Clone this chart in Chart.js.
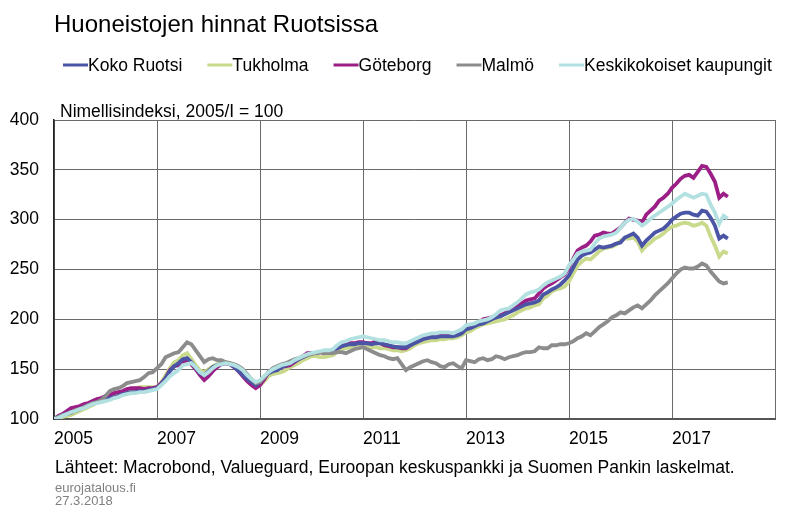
<!DOCTYPE html>
<html>
<head>
<meta charset="utf-8">
<script src="https://cdn.jsdelivr.net/npm/chart.js@4.4.1/dist/chart.umd.min.js"></script>
<style>
  body { margin: 0; background: #fff; }
  #wrap { width: 800px; height: 523px; position: relative; }
</style>
</head>
<body>
<div id="wrap"><canvas id="myChart" width="800" height="523"></canvas></div>
<script>
// monthly index, 2005/I = 100, Jan 2005 .. Feb 2018
let startYear = 2005;
let tickYears = [2005, 2007, 2009, 2011, 2013, 2015, 2017];

let kokoRuotsi = [
  100, 102, 104, 105, 107, 108, 110, 112, 114, 115, 117, 118,
  120, 121, 122, 123, 125, 126, 127, 127, 128, 128, 129, 130,
  131, 135, 141, 148, 153, 156, 160, 161, 157, 151, 146, 144,
  148, 152, 154, 155, 156, 155, 152, 148, 144, 140, 137, 134,
  137, 142, 146, 148, 149, 152, 154, 156, 158, 160, 162, 164,
  166, 166, 167, 167, 167, 168, 171, 173, 174, 175, 175, 176,
  176, 176, 175, 176, 176, 175, 174, 173, 172, 172, 172, 174,
  176, 178, 180, 181, 182, 182, 183, 183, 183, 183, 184, 186,
  190, 191, 193, 195, 196, 198, 200, 202, 203, 205, 207, 209,
  211, 213, 215, 216, 217, 219, 225, 227, 230, 232, 235, 239,
  244, 252, 260, 264, 266, 267, 270, 273, 272, 273, 274, 276,
  277, 282, 284, 286, 282, 274, 279, 283, 287, 289, 291, 295,
  300, 303, 306, 307, 307, 305, 304, 309, 308, 302, 294, 281,
  284, 281
];

let tukholma = [
  100, 101, 102, 103, 104, 106, 108, 110, 112, 114, 117, 118,
  120, 122, 123, 124, 126, 128, 130, 131, 132, 132, 132, 132,
  132, 137, 144, 151, 157, 159, 164, 166, 160, 154, 149, 147,
  150, 153, 155, 156, 157, 156, 153, 150, 145, 140, 135, 132,
  134, 138, 143, 145, 146, 147, 149, 152, 154, 156, 159, 161,
  163, 163, 162, 162, 163, 164, 167, 170, 171, 172, 172, 173,
  172, 172, 172, 172, 171, 171, 170, 169, 169, 168, 169, 171,
  174, 176, 177, 178, 179, 179, 180, 180, 181, 181, 182, 184,
  187, 188, 191, 193, 195, 196, 197, 198, 199, 200, 202, 204,
  207, 209, 211, 212, 214, 215, 221, 224, 228, 230, 231, 233,
  238, 246, 254, 258, 261, 260, 264, 268, 271, 272, 273, 275,
  279, 281, 281, 282, 278, 269, 274, 277, 281, 283, 286, 290,
  293, 294, 296, 297, 296, 294, 295, 297, 294, 283, 274, 263,
  268, 266
];

let goteborg = [
  100, 103, 105, 108, 111, 112, 113, 115, 116, 118, 120, 121,
  123, 124, 126, 127, 128, 130, 131, 131, 131, 130, 131, 131,
  132, 136, 141, 149, 153, 154, 157, 159, 155, 150, 144, 139,
  143, 148, 152, 155, 156, 155, 152, 148, 143, 138, 134, 131,
  134, 140, 147, 150, 152, 152, 153, 154, 157, 160, 163, 166,
  166, 166, 167, 166, 167, 168, 171, 173, 175, 176, 176, 177,
  177, 176, 176, 178, 176, 174, 173, 172, 172, 171, 171, 174,
  177, 179, 181, 183, 183, 184, 184, 185, 185, 186, 186, 188,
  192, 193, 194, 197, 200, 201, 202, 203, 204, 206, 209, 211,
  214, 216, 219, 220, 221, 226, 231, 234, 236, 239, 242, 245,
  252, 261, 269, 272, 274, 278, 284, 285, 287, 286, 286, 289,
  292, 297, 301, 300, 299, 297, 305, 309, 313, 319, 322, 326,
  332, 336, 341, 344, 345, 342, 348, 354, 353, 346, 338, 322,
  326, 323
];

let malmo = [
  100, 102, 104, 105, 106, 109, 110, 112, 114, 116, 117, 119,
  123, 128, 130, 131, 133, 136, 137, 138, 139, 142, 146, 147,
  151, 155, 162, 164, 166, 167, 172, 177, 175, 169, 163, 157,
  160, 161, 159, 159, 157, 156, 155, 153, 150, 145, 140, 136,
  137, 142, 147, 151, 153, 155, 156, 158, 160, 161, 163, 164,
  165, 166, 167, 166, 166, 166, 167, 167, 166, 168, 170, 171,
  172, 170, 168, 166, 164, 163, 161, 160, 161, 155, 149, 152,
  154, 156, 158, 159, 157, 156, 153, 152, 155, 156, 153, 151,
  159, 158, 157, 160, 161, 159, 160, 163, 162, 160, 162, 163,
  164, 166, 167, 167, 168, 172, 171, 171, 174, 174, 175, 175,
  176, 178, 181, 183, 186, 184, 188, 192, 195, 198, 202, 204,
  207, 206, 209, 212, 214, 211, 215, 219, 224, 228, 232, 236,
  241, 246, 250, 252, 251, 251, 253, 256, 254, 248, 243, 238,
  236, 237
];

let keskikokoiset = [
  100, 101, 103, 105, 107, 108, 110, 111, 113, 115, 116, 117,
  118, 119, 121, 122, 124, 125, 126, 126, 127, 127, 128, 129,
  130, 134, 138, 143, 146, 149, 154, 155, 156, 152, 147, 144,
  147, 151, 154, 155, 156, 155, 154, 152, 149, 144, 140, 137,
  139, 143, 147, 150, 152, 154, 155, 156, 159, 161, 163, 165,
  166, 167, 168, 169, 169, 170, 174, 177, 178, 180, 181, 182,
  183, 182, 181, 180, 179, 179, 178, 177, 177, 176, 176, 178,
  180, 182, 184, 185, 186, 186, 187, 187, 187, 186, 188, 190,
  194, 195, 196, 198, 199, 200, 202, 205, 209, 210, 211, 214,
  217, 221, 225, 227, 228, 230, 234, 237, 239, 241, 243, 246,
  254, 260, 266, 268, 269, 270, 276, 281, 283, 284, 285, 287,
  292, 297, 300, 301, 298, 294, 297, 301, 304, 307, 310, 313,
  316, 320, 323, 326, 324, 322, 324, 326, 325, 315, 307, 296,
  304, 301
];

let font = '"Liberation Sans", Arial, sans-serif';

// month index -> {x, y}
function toPoints(values) {
  return values.map(function (v, i) { return { x: i, y: v }; });
}

let datasets = [
  { label: 'Koko Ruotsi', data: toPoints(kokoRuotsi), borderColor: '#4b55a5', order: 2 },
  { label: 'Tukholma', data: toPoints(tukholma), borderColor: '#c9da8c', order: 4 },
  { label: 'Göteborg', data: toPoints(goteborg), borderColor: '#9b1f87', order: 3 },
  { label: 'Malmö', data: toPoints(malmo), borderColor: '#8c8c8c', order: 1 },
  { label: 'Keskikokoiset kaupungit', data: toPoints(keskikokoiset), borderColor: '#b3e0e0', order: 0 }
];
datasets.forEach(function (d) {
  d.backgroundColor = d.borderColor;
  d.borderWidth = 3.8;
  d.pointRadius = 0;
  d.tension = 0;
  d.fill = false;
});

// title, legend and notes drawn on the canvas
let textPlugin = {
  id: 'texts',
  afterDraw: function (chart) {
    let ctx = chart.ctx;
    ctx.save();
    ctx.fillStyle = '#000';
    ctx.textBaseline = 'alphabetic';
    ctx.textAlign = 'left';

    ctx.font = '24px ' + font;
    ctx.fillText('Huoneistojen hinnat Ruotsissa', 54, 32);

    // legend row
    ctx.font = '17.5px ' + font;
    let x = 63;
    chart.data.datasets.forEach(function (ds) {
      ctx.strokeStyle = ds.borderColor;
      ctx.lineWidth = 3;
      ctx.beginPath();
      ctx.moveTo(x, 65);
      ctx.lineTo(x + 25, 65);
      ctx.stroke();
      ctx.fillStyle = '#000';
      ctx.fillText(ds.label, x + 25, 71);
      x += 25 + ctx.measureText(ds.label).width + 25;
    });

    ctx.fillText('Nimellisindeksi, 2005/I = 100', 60, 117);
    ctx.fillText('Lähteet: Macrobond, Valueguard, Euroopan keskuspankki ja Suomen Pankin laskelmat.', 55, 473);

    ctx.fillStyle = '#808080';
    ctx.font = '13px ' + font;
    ctx.fillText('eurojatalous.fi', 55, 492);
    ctx.fillText('27.3.2018', 55, 505);
    ctx.restore();
  }
};

let config = {
  type: 'line',
  data: { datasets: datasets },
  options: {
    responsive: false,
    animation: false,
    layout: { padding: { left: 0, right: 25, top: 120, bottom: 0 } },
    plugins: {
      legend: { display: false },
      tooltip: { enabled: false }
    },
    scales: {
      x: {
        type: 'linear',
        min: 0,
        max: 168,
        afterFit: function (scale) { scale.height = 104; },
        afterBuildTicks: function (scale) {
          scale.ticks = tickYears.map(function (y) { return { value: (y - startYear) * 12 }; })
            .concat([{ value: 168 }]);
        },
        grid: { color: '#6a6a6a', lineWidth: 1, drawTicks: false },
        border: { color: '#555', width: 2 },
        ticks: {
          align: 'start',
          padding: 10,
          maxRotation: 0,
          autoSkip: false,
          color: '#000',
          font: { family: font, size: 17.5 },
          callback: function (v) {
            if (v >= 168) return '';
            return String(startYear + v / 12);
          }
        }
      },
      y: {
        min: 100,
        max: 400,
        afterFit: function (scale) { scale.width = 54; },
        grid: { color: '#6a6a6a', lineWidth: 1, drawTicks: false },
        border: { color: '#222', width: 1.5 },
        ticks: {
          stepSize: 50,
          padding: 15,
          color: '#000',
          font: { family: font, size: 17.5 }
        }
      }
    }
  },
  plugins: [textPlugin]
};

const myChart = new Chart(document.getElementById('myChart'), config);
</script>
</body>
</html>
